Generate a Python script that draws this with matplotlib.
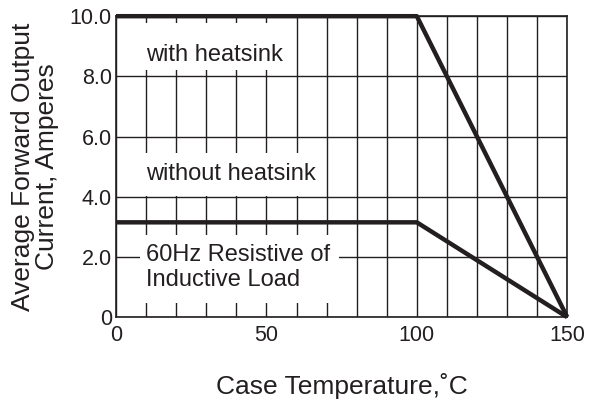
from matplotlib import pyplot as plt
from matplotlib.patches import Rectangle
from matplotlib.ticker import MultipleLocator

plt.rcParams['font.family'] = ['Liberation Sans', 'DejaVu Sans']

# derating curves
temp = [0, 100, 150]
with_heatsink = [10.0, 10.0, 0.0]
without_heatsink = [3.15, 3.15, 0.0]

x_ticks = [0, 50, 100, 150]
y_ticks = [0, 2, 4, 6, 8, 10]
y_labels = ['0', '2.0', '4.0', '6.0', '8.0', '10.0']

ink = '#231f20'

fig = plt.figure(figsize=(5.89, 4.05), dpi=100)
ax = fig.add_axes([0.197, 0.217, 0.766, 0.743])

ax.set_xlim(0, 150)
ax.set_ylim(0, 10)
ax.set_xticks(x_ticks)
ax.set_xticklabels([str(t) for t in x_ticks])
ax.xaxis.set_minor_locator(MultipleLocator(10))
ax.set_yticks(y_ticks)
ax.set_yticklabels(y_labels)
ax.tick_params(which='both', length=0, labelsize=15.5, colors=ink)
ax.tick_params(axis='x', pad=6)
ax.tick_params(axis='y', pad=3)

ax.grid(which='both', axis='x', color=ink, lw=1.0, zorder=1)
ax.grid(which='major', axis='y', color=ink, lw=1.0, zorder=1)
ax.set_axisbelow(True)
for s in ax.spines.values():
    s.set_color(ink)
    s.set_linewidth(1.2)

# white backgrounds behind the labels
for x0, y0, w, h in [(1.5, 8.2, 56.5, 1.58), (1.5, 4.02, 67, 1.43), (8, 0.47, 66, 2.25)]:
    ax.add_patch(Rectangle((x0, y0), w, h, facecolor='white', edgecolor='none', zorder=2))

ax.text(10, 8.72, 'with heatsink', fontsize=17, va='center', color=ink, zorder=3)
ax.text(10, 4.75, 'without heatsink', fontsize=17, va='center', color=ink, zorder=3)
ax.text(10, 1.66, '60Hz Resistive of\nInductive Load', fontsize=17, va='center',
        linespacing=1.16, color=ink, zorder=3)

ax.plot(temp, with_heatsink, color=ink, lw=3.2, solid_capstyle='butt', clip_on=False, zorder=4)
ax.plot(temp, without_heatsink, color=ink, lw=3.2, solid_capstyle='butt', clip_on=False, zorder=4)

ax.set_xlabel('Case Temperature,˚C', fontsize=19, color=ink, labelpad=19)
ax.set_ylabel('Average Forward Output\nCurrent, Amperes', fontsize=19, color=ink,
              labelpad=8, linespacing=1.0)

fig.savefig('out.png', dpi=100)
